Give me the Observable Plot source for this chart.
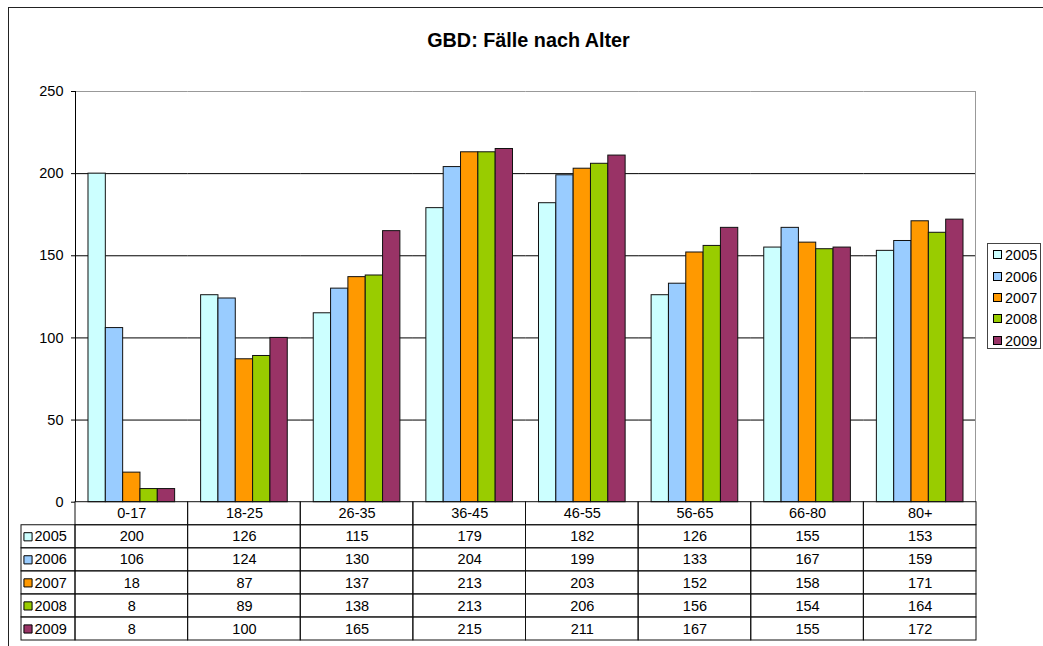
<!DOCTYPE html>
<html>
<head>
<meta charset="utf-8">
<script src="https://cdn.jsdelivr.net/npm/d3@7"></script>
<script src="https://cdn.jsdelivr.net/npm/@observablehq/plot@0.6"></script>
<style>
  html, body { margin: 0; padding: 0; background: white; }
  #root { position: relative; width: 1043px; height: 646px; overflow: hidden; background: white;
          font-family: "Liberation Sans", Arial, sans-serif; }
  .abs { position: absolute; left: 0; top: 0; }
  #frame { position: absolute; left: 8px; top: 7px; width: 1100px; height: 700px; border: 1.5px solid #222; box-sizing: border-box; }
  #title { position: absolute; left: 0; width: 1057px; top: 30px; line-height: 20px; text-align: center;
           font-weight: bold; font-size: 19.8px; color: #000; }
  #plotbox { position: absolute; left: 74.5px; top: 91px; width: 901.5px; height: 410.7px;
             border-left: 1px solid #000; border-right: 1px solid #999; box-sizing: border-box; }
  #legend { position: absolute; left: 987px; top: 243px; width: 54px; height: 106px; border: 1px solid #444;
            box-sizing: border-box; background: white; }
  .li { position: absolute; left: 5px; height: 16px; line-height: 16px; font-size: 14.5px; color: #000; }
  .sw { position: absolute; left: 0; top: 3px; width: 9px; height: 9px; border: 1px solid #000; box-sizing: border-box; }
  .lt { position: absolute; left: 12px; top: 0; }
</style>
</head>
<body>
<div id="root">
  <div id="frame"></div>
  <div id="title"></div>
</div>
<script>
const title = "GBD: Fälle nach Alter";
const categories = ["0-17", "18-25", "26-35", "36-45", "46-55", "56-65", "66-80", "80+"];
const years = ["2005", "2006", "2007", "2008", "2009"];
const values2005 = [200, 126, 115, 179, 182, 126, 155, 153];
const values2006 = [106, 124, 130, 204, 199, 133, 167, 159];
const values2007 = [18, 87, 137, 213, 203, 152, 158, 171];
const values2008 = [8, 89, 138, 213, 206, 156, 154, 164];
const values2009 = [8, 100, 165, 215, 211, 167, 155, 172];
const colors = ["#CCFFFF", "#99CCFF", "#FF9900", "#99CC00", "#993366"];
const yTicks = [0, 50, 100, 150, 200, 250];
const gridValues = [50, 100, 150, 200];

const series = [values2005, values2006, values2007, values2008, values2009];
const data = [];
years.forEach((yr, i) => categories.forEach((c, j) => data.push({cat: c, year: yr, value: series[i][j]})));

const FONT = '"Liberation Sans", Arial, sans-serif';
const root = document.getElementById("root");
document.getElementById("title").textContent = title;

// Bar chart
const chart = Plot.plot({
  width: 1043, height: 512,
  marginLeft: 75, marginRight: 67, marginTop: 91, marginBottom: 10.3,
  style: {background: "transparent", overflow: "visible", fontFamily: FONT, fontSize: "14.5px", color: "#000"},
  fx: {domain: categories, padding: 0, round: false, axis: null, label: null},
  x: {domain: years, paddingInner: 0, paddingOuter: 0.75, round: false, axis: null},
  y: {domain: [0, 250], axis: null},
  color: {domain: years, range: colors},
  marks: [
    Plot.ruleY(gridValues, {stroke: "#000", strokeWidth: 1}),
    Plot.ruleY([250], {stroke: "#999", strokeWidth: 1}),
    Plot.barY(data, {fx: "cat", x: "year", y: "value", fill: "year", stroke: "#111", strokeWidth: 1, inset: 0}),
    Plot.axisY({ticks: yTicks, tickSize: 4, tickPadding: 8, fontSize: 14.5, label: null, stroke: "#000"})
  ]
});
chart.classList.add("abs");
root.appendChild(chart);

const box = document.createElement("div");
box.id = "plotbox";
root.appendChild(box);

// Data table
const rows = ["cat", ...years];
const tableCells = [];
categories.forEach(c => tableCells.push({cat: c, row: "cat", text: c}));
years.forEach((yr, i) => categories.forEach((c, j) => tableCells.push({cat: c, row: yr, text: String(series[i][j])})));

const table = Plot.plot({
  width: 1043, height: 646,
  marginLeft: 75, marginRight: 67, marginTop: 501.7, marginBottom: 6,
  style: {background: "transparent", overflow: "visible", fontFamily: FONT, fontSize: "14.5px", color: "#000"},
  x: {domain: categories, padding: 0, round: false, axis: null},
  y: {domain: rows, padding: 0, round: false, axis: null},
  marks: [
    Plot.cell(tableCells, {x: "cat", y: "row", fill: "none", stroke: "#111", strokeWidth: 1, inset: 0}),
    Plot.text(tableCells, {x: "cat", y: "row", text: "text", fontSize: 14.5, fill: "#000"})
  ]
});
table.classList.add("abs");
root.appendChild(table);

const labelRows = years.map(yr => ({lab: "lab", row: yr}));
const labels = Plot.plot({
  width: 1043, height: 646,
  marginLeft: 21, marginRight: 968, marginTop: 501.7, marginBottom: 6,
  style: {background: "transparent", overflow: "visible", fontFamily: FONT, fontSize: "14.5px", color: "#000"},
  x: {domain: ["lab"], padding: 0, round: false, axis: null},
  y: {domain: rows, padding: 0, round: false, axis: null},
  color: {domain: years, range: colors},
  marks: [
    Plot.cell(labelRows, {x: "lab", y: "row", fill: "none", stroke: "#111", strokeWidth: 1, inset: 0}),
    Plot.dot(labelRows, {x: "lab", y: "row", symbol: "square", r: 4.6, fill: "row", stroke: "#000", strokeWidth: 1, dx: -20.5}),
    Plot.text(labelRows, {x: "lab", y: "row", text: "row", textAnchor: "start", dx: -14, fontSize: 14.5, fill: "#000"})
  ]
});
labels.classList.add("abs");
root.appendChild(labels);

// Legend
const legend = document.createElement("div");
legend.id = "legend";
const centers = [11, 32.5, 54, 75.3, 96.5];
years.forEach((yr, i) => {
  const item = document.createElement("div");
  item.className = "li";
  item.style.top = (centers[i] - 8) + "px";
  const sw = document.createElement("div");
  sw.className = "sw";
  sw.style.background = colors[i];
  const t = document.createElement("div");
  t.className = "lt";
  t.textContent = yr;
  item.appendChild(sw); item.appendChild(t);
  legend.appendChild(item);
});
root.appendChild(legend);
</script>
</body>
</html>
